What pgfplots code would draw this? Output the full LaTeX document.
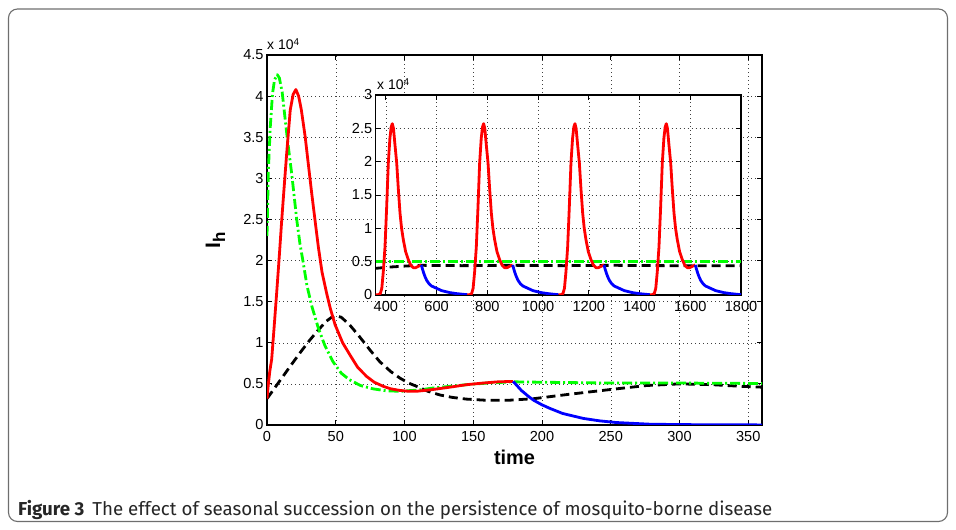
\documentclass[border=0pt]{standalone}
\usepackage{fontspec}
\setmainfont{Liberation Sans}
\newfontfamily\capfont{Fira Sans}
\usepackage{pgfplots}
\pgfplotsset{compat=1.18}
\definecolor{frame}{RGB}{110,110,110}
\definecolor{mgreen}{RGB}{0,255,0}
\begin{document}
\begin{tikzpicture}[x=1bp,y=1bp]
\useasboundingbox (0,0) rectangle (956,530);
\draw[frame, line width=1.1bp, rounded corners=9bp] (8.5,8.5) rectangle (947.5,521);
\pgfplotsset{
  mstyle/.style={
    scale only axis, anchor=south west,
    grid=major, grid style={black!75, line width=0.5bp, dash pattern=on 1bp off 3bp},
    tick align=inside, major tick length=5bp, tick style={black, line width=0.8bp},
    axis line style={black, line width=1.1bp},
    tick label style={font=\fontsize{14.6}{17}\selectfont},
    /pgf/number format/assume math mode=true,
    /pgf/number format/1000 sep={},
    every axis plot/.append style={line width=2.8bp, line join=round},
  },
  dashb/.style={black, dash pattern=on 9bp off 5bp},
  dashg/.style={mgreen, dash pattern=on 10bp off 3bp on 2bp off 3bp},
}
% ---------------- main axis
\begin{axis}[mstyle,
  at={(267bp,105bp)}, width=495bp, height=370bp,
  xmin=0, xmax=360, ymin=0, ymax=4.5,
  xtick={0,50,100,150,200,250,300,350},
  ytick={0,0.5,1,1.5,2,2.5,3,3.5,4,4.5},
  yticklabels={0,0.5,1,1.5,2,2.5,3,3.5,4,4.5},
  xticklabel style={yshift=-3bp},
]
\addplot[dashb] coordinates {
(0,0.32) (6,0.46) (12,0.6) (18,0.74) (25,0.9) (31,1.03) (37,1.15) (43,1.26) (47,1.31) (50,1.33)
(54,1.31) (60,1.22) (67,1.08) (75,0.91) (82,0.77) (90,0.65) (96.7,0.57) (103,0.51) (108.8,0.47)
(117,0.41) (125.8,0.365) (135,0.335) (145,0.315) (160,0.30) (175,0.30) (194,0.32) (218,0.37)
(249,0.43) (276,0.48) (300,0.50) (324,0.49) (345,0.47) (360,0.46)};
\addplot[dashg] coordinates {
(0,2.3) (1,3.1) (2.4,3.63) (4,4.03) (5.5,4.2) (7.5,4.26)
(9,4.22) (11,4.05) (13,3.75) (15,3.45) (18,3.05) (21.6,2.5) (24,2.2) (26.4,1.97) (29,1.7)
(32.5,1.45) (37.3,1.18) (42,0.97) (48,0.77) (54,0.63) (60,0.55) (68,0.48) (77,0.44) (87,0.415)
(97,0.41) (110,0.425) (121,0.45) (133,0.47) (145,0.49) (160,0.51) (179,0.525) (200,0.52)
(250,0.51) (300,0.51) (360,0.505)};
\addplot[red] coordinates {
(0,0.32) (1,0.5) (2,0.65) (3.4,0.8) (5,1.15) (7,1.6) (9,2.07) (10.7,2.49) (12.5,2.9) (14.3,3.3)
(16.9,3.83) (19,4.02) (21,4.08) (23,4.0) (25,3.83) (27.8,3.5) (30,3.18) (32.5,2.82) (35,2.48)
(37.3,2.17) (40,1.86) (43.4,1.6) (46,1.42) (49.5,1.22) (55,1.0) (60.4,0.85) (66,0.7) (72.5,0.59)
(78,0.52) (84.6,0.47) (90,0.44) (96.7,0.42) (103,0.41) (108.8,0.41) (120,0.43) (133,0.46)
(145,0.49) (157,0.51) (168,0.525) (179,0.53)};
\addplot[blue] coordinates {
(179,0.53) (185,0.42) (190,0.35) (194,0.30) (200,0.245) (206,0.2) (215,0.14) (230,0.08)
(242,0.05) (254,0.03) (266,0.02) (278,0.01) (300,0.005) (330,0.002) (360,0.001)};
\end{axis}
% ---------------- inset axis
\begin{axis}[mstyle,
  at={(375.7bp,235bp)}, width=365.3bp, height=200bp,
  xmin=360, xmax=1800, ymin=0, ymax=3,
  xtick={400,600,800,1000,1200,1400,1600,1800},
  ytick={0,0.5,1,1.5,2,2.5,3},
  yticklabels={0,0.5,1,1.5,2,2.5,3},
  xticklabel style={yshift=-3bp},
  axis background/.style={fill=white},
]
\addplot[dashg] coordinates {(360,0.5) (1800,0.5)};
\addplot[dashb] coordinates {
(360,0.40) (420,0.42) (480,0.435) (540,0.445) (700,0.44) (900,0.445) (1100,0.44) (1300,0.445)
(1500,0.44) (1800,0.44)};
\addplot[red] coordinates {
(360,0.003) (370,0.005) (378,0.02) (384,0.1) (390,0.35) (396.6,0.72) (403,1.3) (409.7,1.98)
(416,2.35) (421,2.52) (425.5,2.57) (430,2.5) (436,2.25) (442.8,1.98) (449,1.6) (455.8,1.23)
(462,1.0) (468.8,0.83) (478,0.65) (488.5,0.53) (498,0.45) (508,0.41) (518,0.41) (528,0.43) (540,0.45)};
\addplot[red] coordinates {
(720,0.003) (730,0.005) (738,0.02) (744,0.1) (750,0.35) (756.6,0.72) (763,1.3) (769.7,1.98)
(776,2.35) (781,2.52) (785.5,2.57) (790,2.5) (796,2.25) (802.8,1.98) (809,1.6) (815.8,1.23)
(822,1.0) (828.8,0.83) (838,0.65) (848.5,0.53) (858,0.45) (868,0.41) (878,0.41) (888,0.43) (900,0.45)};
\addplot[red] coordinates {
(1080,0.003) (1090,0.005) (1098,0.02) (1104,0.1) (1110,0.35) (1116.6,0.72) (1123,1.3) (1129.7,1.98)
(1136,2.35) (1141,2.52) (1145.5,2.57) (1150,2.5) (1156,2.25) (1162.8,1.98) (1169,1.6) (1175.8,1.23)
(1182,1.0) (1188.8,0.83) (1198,0.65) (1208.5,0.53) (1218,0.45) (1228,0.41) (1238,0.41) (1248,0.43) (1260,0.45)};
\addplot[red] coordinates {
(1440,0.003) (1450,0.005) (1458,0.02) (1464,0.1) (1470,0.35) (1476.6,0.72) (1483,1.3) (1489.7,1.98)
(1496,2.35) (1501,2.52) (1505.5,2.57) (1510,2.5) (1516,2.25) (1522.8,1.98) (1529,1.6) (1535.8,1.23)
(1542,1.0) (1548.8,0.83) (1558,0.65) (1568.5,0.53) (1578,0.45) (1588,0.41) (1598,0.41) (1608,0.43) (1620,0.45)};
\addplot[blue] coordinates {
(540,0.45) (545,0.38) (550,0.32) (555,0.27) (561,0.22) (570,0.17) (580,0.135) (600,0.1) (620,0.065)
(653,0.035) (680,0.02) (705,0.01) (720,0.005)};
\addplot[blue] coordinates {
(900,0.45) (905,0.38) (910,0.32) (915,0.27) (921,0.22) (930,0.17) (940,0.135) (960,0.1) (980,0.065)
(1013,0.035) (1040,0.02) (1065,0.01) (1080,0.005)};
\addplot[blue] coordinates {
(1260,0.45) (1265,0.38) (1270,0.32) (1275,0.27) (1281,0.22) (1290,0.17) (1300,0.135) (1320,0.1) (1340,0.065)
(1373,0.035) (1400,0.02) (1425,0.01) (1440,0.005)};
\addplot[blue] coordinates {
(1620,0.45) (1625,0.38) (1630,0.32) (1635,0.27) (1641,0.22) (1650,0.17) (1660,0.135) (1680,0.1) (1700,0.065)
(1733,0.035) (1760,0.02) (1785,0.01) (1800,0.005)};
\end{axis}
% ---------------- labels
\node[anchor=base west, inner sep=0, font=\fontsize{14}{16}\selectfont] at (267,480)
  {x 10\raisebox{4.5bp}{\fontsize{10}{10}\selectfont 4}};
\node[anchor=base west, inner sep=0, font=\fontsize{14}{16}\selectfont] at (377,440)
  {x 10\raisebox{4.5bp}{\fontsize{10}{10}\selectfont 4}};
\node[anchor=base, inner sep=0, font=\bfseries\fontsize{20}{24}\selectfont] at (514.5,65) {time};
\node[anchor=base, inner sep=0, rotate=90, font=\bfseries\fontsize{21}{24}\selectfont] at (220,290)
  {I\raisebox{-5bp}{\fontsize{17}{18}\selectfont h}};
\node[anchor=base west, inner sep=0, font=\capfont\fontsize{18.8}{22}\selectfont, text=black!85] at (18,14)
  {\textbf{Figure 3}\hspace{8bp}The effect of seasonal succession on the persistence of mosquito-borne disease};
\end{tikzpicture}
\end{document}
